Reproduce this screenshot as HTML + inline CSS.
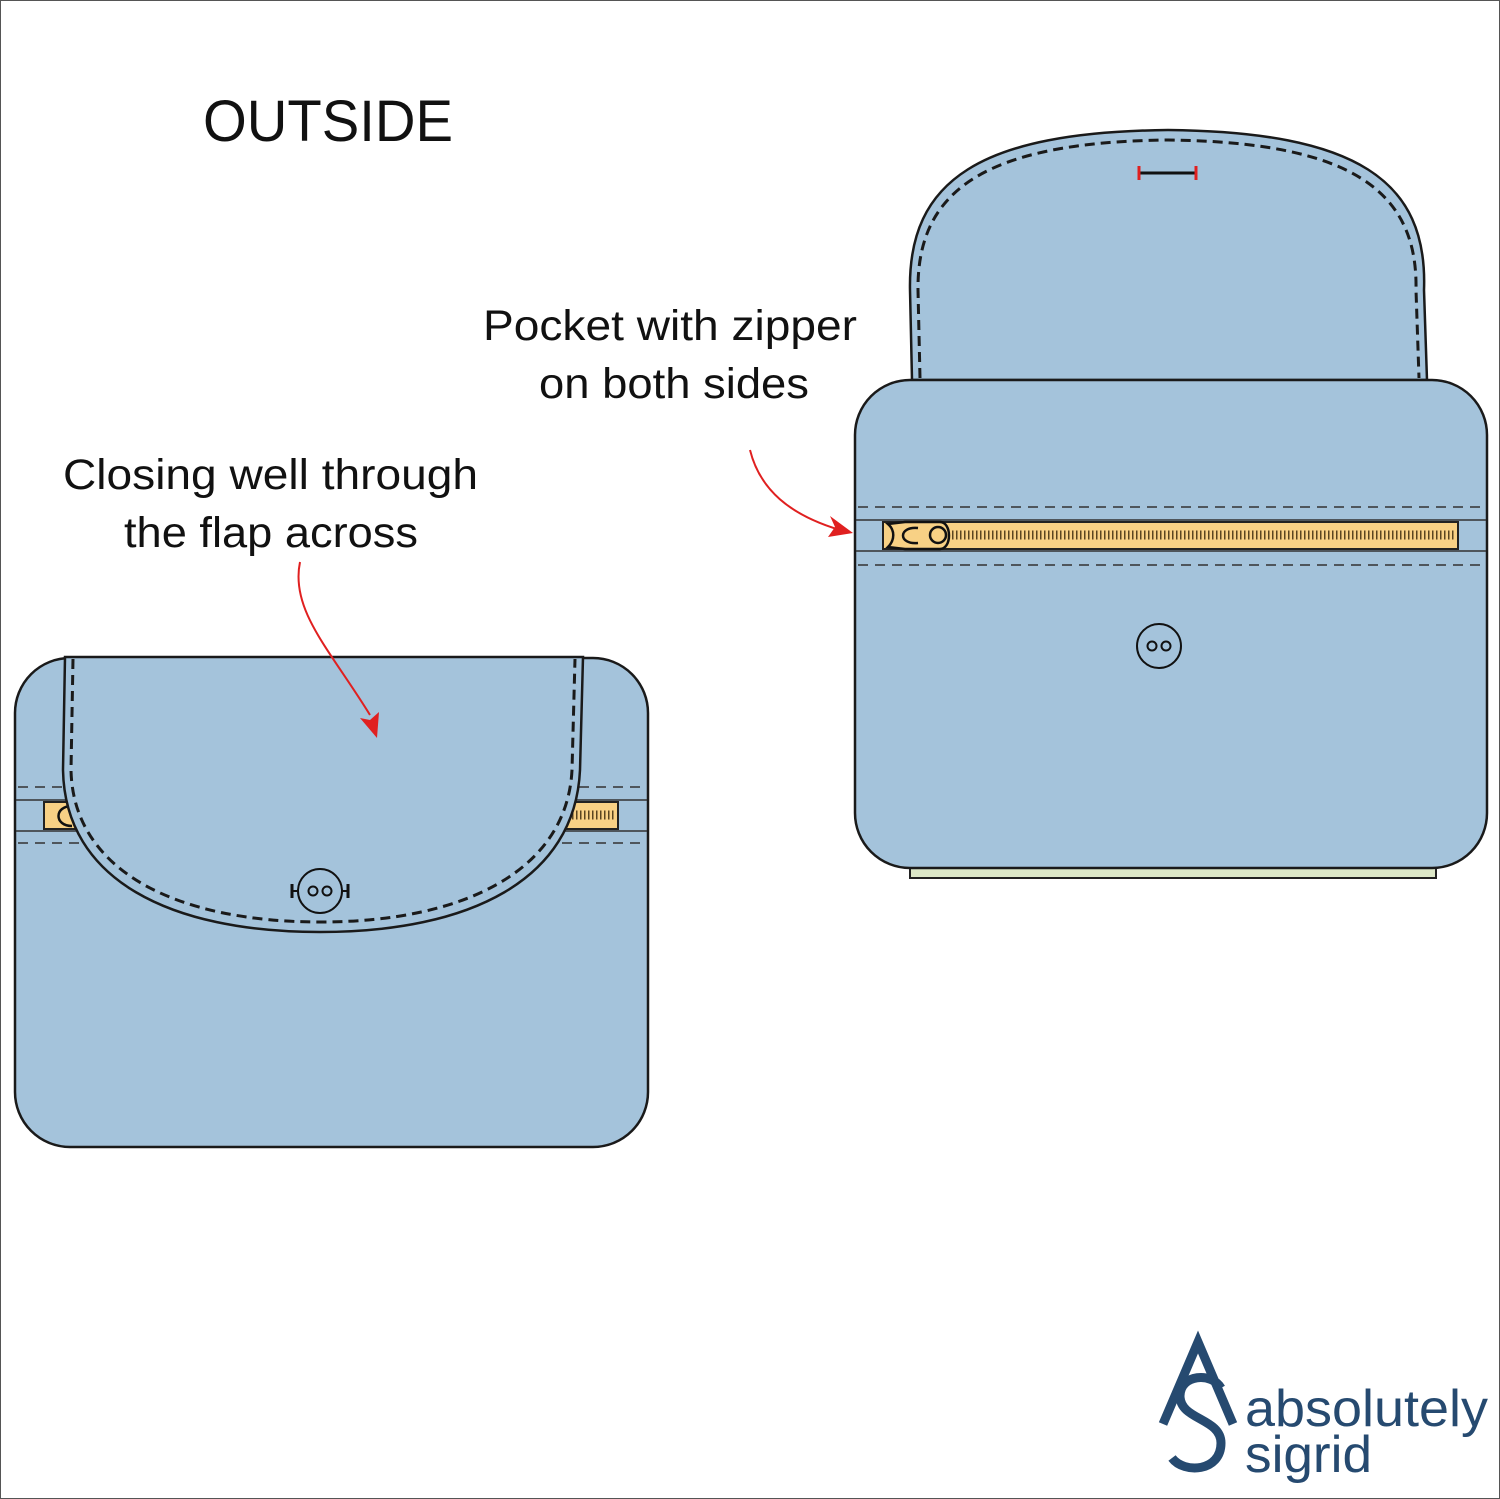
<!DOCTYPE html>
<html><head><style>
html,body{margin:0;padding:0;background:#fff}
svg{display:block}
text{font-family:"Liberation Sans",sans-serif}
</style></head><body>
<svg width="1500" height="1499" viewBox="0 0 1500 1499" xmlns="http://www.w3.org/2000/svg">
<rect x="0.5" y="0.5" width="1499" height="1498" fill="#fff" stroke="#555" stroke-width="1"/>
<text x="203" y="141" font-size="58" textLength="250" lengthAdjust="spacingAndGlyphs" fill="#111">OUTSIDE</text>
<text x="483" y="340" font-size="43" textLength="374" lengthAdjust="spacingAndGlyphs" fill="#111">Pocket with zipper</text>
<text x="539" y="398" font-size="43" textLength="270" lengthAdjust="spacingAndGlyphs" fill="#111">on both sides</text>
<text x="63" y="489" font-size="43" textLength="415" lengthAdjust="spacingAndGlyphs" fill="#111">Closing well through</text>
<text x="124" y="547" font-size="43" textLength="294" lengthAdjust="spacingAndGlyphs" fill="#111">the flap across</text>

<!-- RIGHT BAG -->
<rect x="910" y="862" width="526" height="16" fill="#dde8c8" stroke="#222" stroke-width="2"/>
<path d="M912,380 L910,290 C908,180 980,132 1168,130 C1356,132 1428,180 1424,290 L1427,380 Z" fill="#a4c3db" stroke="#1a1a1a" stroke-width="2.5"/>
<path d="M920,378 L918,290 C917,190 985,142 1168,140 C1350,142 1418,190 1416,290 L1419,378" fill="none" stroke="#1a1a1a" stroke-width="3" stroke-dasharray="10,6"/>
<line x1="1139" y1="173" x2="1196" y2="173" stroke="#111" stroke-width="3"/>
<line x1="1139" y1="166" x2="1139" y2="180" stroke="#e02020" stroke-width="3"/>
<line x1="1196" y1="166" x2="1196" y2="180" stroke="#e02020" stroke-width="3"/>
<rect x="855" y="380" width="632" height="488" rx="55" fill="#a4c3db" stroke="#1a1a1a" stroke-width="2.5"/>
<line x1="858" y1="507" x2="1484" y2="507" stroke="#333" stroke-width="1.5" stroke-dasharray="10,7"/>
<line x1="858" y1="565" x2="1484" y2="565" stroke="#333" stroke-width="1.5" stroke-dasharray="10,7"/>
<line x1="856" y1="520" x2="1486" y2="520" stroke="#333" stroke-width="1.5"/>
<line x1="856" y1="551" x2="1486" y2="551" stroke="#333" stroke-width="1.5"/>
<rect x="883" y="522" width="575" height="27" fill="#f8d185" stroke="#222" stroke-width="2"/>
<line x1="952" y1="535" x2="1455" y2="535" stroke="#5a4520" stroke-width="9" stroke-dasharray="1.5,2.5"/>
<path d="M888,524 L905,522 L940,522 C952,522 952,549 940,549 L905,549 L888,547 C895,540 895,530 888,524 Z" fill="#f8d185" stroke="#111" stroke-width="2.5"/>
<circle cx="938" cy="535" r="8" fill="none" stroke="#111" stroke-width="2.5"/>
<path d="M918,528 C898,526 898,545 918,543" fill="none" stroke="#111" stroke-width="2.5"/>
<circle cx="1159" cy="646" r="22" fill="none" stroke="#111" stroke-width="2"/>
<circle cx="1152" cy="646" r="4.5" fill="none" stroke="#111" stroke-width="2"/>
<circle cx="1166" cy="646" r="4.5" fill="none" stroke="#111" stroke-width="2"/>
<path d="M750,450 C760,490 790,515 840,530" fill="none" stroke="#e02020" stroke-width="2"/>
<path d="M853,533 L828,537 L835,527 L830,516 Z" fill="#e02020"/>

<!-- LEFT BAG -->
<rect x="15" y="658" width="633" height="489" rx="55" fill="#a4c3db" stroke="#1a1a1a" stroke-width="2.5"/>
<line x1="18" y1="787" x2="646" y2="787" stroke="#333" stroke-width="1.5" stroke-dasharray="10,7"/>
<line x1="18" y1="843" x2="646" y2="843" stroke="#333" stroke-width="1.5" stroke-dasharray="10,7"/>
<line x1="16" y1="800" x2="647" y2="800" stroke="#333" stroke-width="1.5"/>
<line x1="16" y1="831" x2="647" y2="831" stroke="#333" stroke-width="1.5"/>
<rect x="44" y="802" width="574" height="27" fill="#f8d185" stroke="#222" stroke-width="2"/>
<line x1="560" y1="815" x2="616" y2="815" stroke="#5a4520" stroke-width="9" stroke-dasharray="1.5,2.5"/>
<path d="M72,806 C54,806 54,826 72,826" fill="none" stroke="#111" stroke-width="2.5"/>
<path d="M65,657 L583,657 L580,770 C575,880 470,932 320,932 C170,932 65,880 63,770 Z" fill="#a4c3db" stroke="#1a1a1a" stroke-width="2.5"/>
<path d="M73,659 L71,770 C73,870 175,922 320,922 C465,922 567,870 572,770 L575,659" fill="none" stroke="#1a1a1a" stroke-width="3" stroke-dasharray="10,6"/>
<circle cx="320" cy="891" r="22" fill="none" stroke="#111" stroke-width="2"/>
<circle cx="313" cy="891" r="4.5" fill="none" stroke="#111" stroke-width="2"/>
<circle cx="327" cy="891" r="4.5" fill="none" stroke="#111" stroke-width="2"/>
<line x1="292" y1="891" x2="298" y2="891" stroke="#111" stroke-width="2"/>
<line x1="292" y1="884" x2="292" y2="898" stroke="#111" stroke-width="3"/>
<line x1="342" y1="891" x2="348" y2="891" stroke="#111" stroke-width="2"/>
<line x1="348" y1="884" x2="348" y2="898" stroke="#111" stroke-width="3"/>
<path d="M300,562 C290,610 330,650 370,715" fill="none" stroke="#e02020" stroke-width="2"/>
<path d="M377,738 L360,718 L370,720 L379,712 Z" fill="#e02020"/>

<!-- LOGO -->
<g fill="none" stroke="#264a70">
<path d="M1163,1424 L1198,1342 L1233,1424" stroke-width="9" stroke-linejoin="miter"/>
<path d="M1221,1388 C1212,1372 1180,1374 1180,1396 C1180,1420 1221,1418 1221,1443 C1221,1472 1184,1474 1172,1458" stroke-width="9"/>
</g>
<text x="1245" y="1426" font-size="52" textLength="243" lengthAdjust="spacingAndGlyphs" fill="#264a70">absolutely</text>
<text x="1245" y="1472" font-size="52" textLength="127" lengthAdjust="spacingAndGlyphs" fill="#264a70">sigrid</text>
</svg>
</body></html>
